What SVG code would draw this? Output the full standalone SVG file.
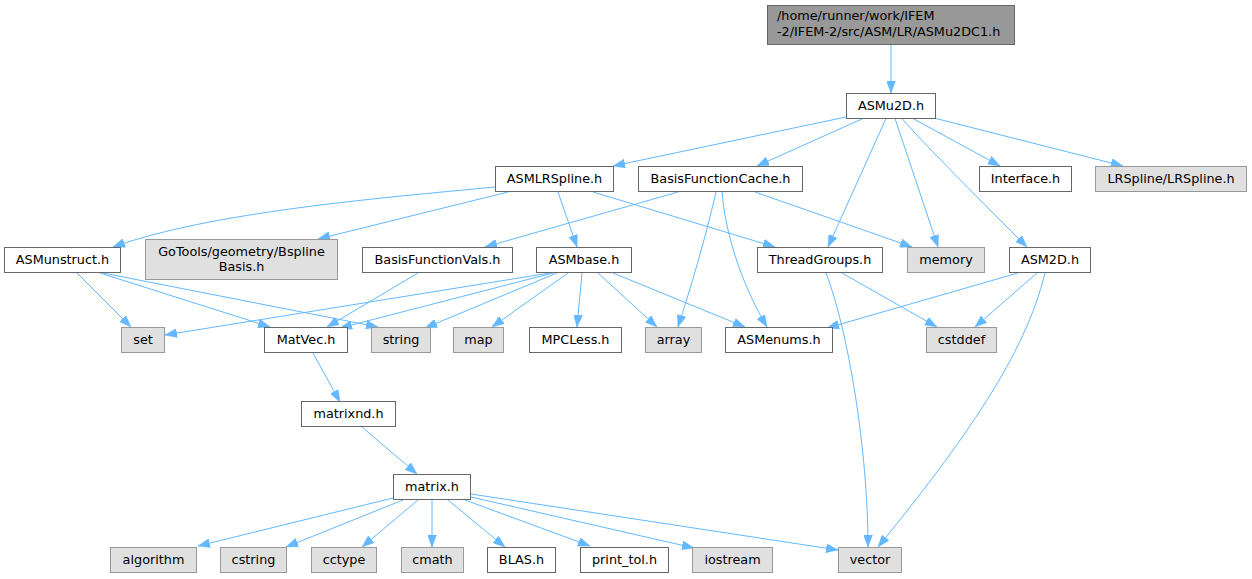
<svg xmlns="http://www.w3.org/2000/svg" width="1252" height="579" viewBox="0 0 1252 579">
<defs>
<style>
.n rect{fill:#ffffff;stroke:#666666;stroke-width:1}
.g rect{fill:#e0e0e0;stroke:#999999;stroke-width:1}
.t rect{fill:#999999;stroke:#666666;stroke-width:1}
text{font-family:"DejaVu Sans","Liberation Sans",sans-serif;font-size:12.8px;fill:#000000;text-anchor:middle}
.t text{text-anchor:start}
#edges path{fill:none;stroke:#63b8ff;stroke-width:1;marker-end:url(#ah)}
#edges polygon{fill:#63b8ff;stroke:#63b8ff;stroke-width:0.5}
</style>
<marker id="ah" markerUnits="userSpaceOnUse" viewBox="0 0 12 9" refX="12" refY="4.5" markerWidth="12" markerHeight="9" orient="auto">
<path d="M0,0 L12,4.5 L0,9 z" fill="#63b8ff" stroke="#63b8ff" stroke-width="0.5"/>
</marker>
</defs>
<rect x="0" y="0" width="1252" height="579" fill="#ffffff"/>
<g id="edges">
<path d="M891,45 L891,93"/>
<path d="M846,117 L613,166"/>
<path d="M863,118.5 L757,166"/>
<path d="M886,118.5 L828,247"/>
<path d="M895,118.5 L938,247"/>
<path d="M902,118.5 C920,140 990,210 1027,247"/>
<path d="M913,118.5 L1000,166"/>
<path d="M936,118.5 L1123,166"/>
<path d="M495,187 C380,198 210,212 113,247"/>
<path d="M508,192 L318,239"/>
<path d="M558,192 L577,247"/>
<path d="M593,192 L775,247"/>
<path d="M678,192 L485,247"/>
<path d="M716,192 C705,240 690,290 678,327"/>
<path d="M722,192 C726,240 745,290 767,327"/>
<path d="M755,192 L912,247"/>
<path d="M77,273 L131,327"/>
<path d="M100,273 L270,327"/>
<path d="M103,273 L378,327"/>
<path d="M418,273 L327,327"/>
<path d="M550,273 L165,335"/>
<path d="M553,273 L340,328"/>
<path d="M557,273 L425,328"/>
<path d="M568,273 L492,327"/>
<path d="M582,273 L577,327"/>
<path d="M598,273 L657,327"/>
<path d="M613,273 L745,327"/>
<path d="M842,273 L937,327"/>
<path d="M826,273 C848,330 868,450 868,547"/>
<path d="M1018,273 L827,328"/>
<path d="M1037,273 L975,327"/>
<path d="M1045,273 C1025,355 965,440 878,547"/>
<path d="M313,353 L340,402"/>
<path d="M362,427 L417,474"/>
<path d="M393,498 L198,546"/>
<path d="M403,500 L286,547"/>
<path d="M418,500 L362,547"/>
<path d="M432,500 L432,547"/>
<path d="M448,500 L505,547"/>
<path d="M465,500 L590,546"/>
<path d="M471,497 L694,548"/>
<path d="M471,494 L838,550"/>
</g>
<g id="n_top" class="t"><rect x="767.5" y="5.5" width="247" height="39"/><text x="777" y="20">/home/runner/work/IFEM</text><text x="777" y="35.5">-2/IFEM-2/src/ASM/LR/ASMu2DC1.h</text></g>
<g id="n_asmu2d" class="n"><rect x="846.5" y="93.5" width="89" height="25"/><text x="891" y="109.5">ASMu2D.h</text></g>
<g id="n_interface" class="n"><rect x="979.5" y="166.5" width="92" height="25"/><text x="1025.5" y="182.8">Interface.h</text></g>
<g id="n_lrspline" class="g"><rect x="1095.5" y="166.5" width="151" height="25"/><text x="1171" y="182.8">LRSpline/LRSpline.h</text></g>
<g id="n_asmlrspline" class="n"><rect x="495.5" y="166.5" width="118" height="25"/><text x="554.5" y="182.8">ASMLRSpline.h</text></g>
<g id="n_bfcache" class="n"><rect x="638.5" y="166.5" width="164" height="25"/><text x="720.5" y="182.8">BasisFunctionCache.h</text></g>
<g id="n_asmunstruct" class="n"><rect x="4.5" y="247.5" width="116" height="25"/><text x="62.5" y="263.8">ASMunstruct.h</text></g>
<g id="n_gotools" class="g"><rect x="145.5" y="239.5" width="192" height="40"/><text x="241.5" y="256">GoTools/geometry/Bspline</text><text x="241.5" y="270.5">Basis.h</text></g>
<g id="n_bfvals" class="n"><rect x="362.5" y="247.5" width="150" height="25"/><text x="437.5" y="263.8">BasisFunctionVals.h</text></g>
<g id="n_asmbase" class="n"><rect x="536.5" y="247.5" width="95" height="25"/><text x="584" y="263.8">ASMbase.h</text></g>
<g id="n_threadgroups" class="n"><rect x="757.5" y="247.5" width="125" height="25"/><text x="820" y="263.8">ThreadGroups.h</text></g>
<g id="n_memory" class="g"><rect x="907.5" y="247.5" width="77" height="25"/><text x="946" y="263.8">memory</text></g>
<g id="n_asm2d" class="n"><rect x="1009.5" y="247.5" width="81" height="25"/><text x="1050" y="263.8">ASM2D.h</text></g>
<g id="n_set" class="g"><rect x="121.5" y="327.5" width="43" height="25"/><text x="143" y="343.8">set</text></g>
<g id="n_matvec" class="n"><rect x="264.5" y="327.5" width="83" height="25"/><text x="306" y="343.8">MatVec.h</text></g>
<g id="n_string" class="g"><rect x="371.5" y="327.5" width="59" height="25"/><text x="401" y="343.8">string</text></g>
<g id="n_map" class="g"><rect x="453.5" y="327.5" width="50" height="25"/><text x="478.5" y="343.8">map</text></g>
<g id="n_mpcless" class="n"><rect x="529.5" y="327.5" width="92" height="25"/><text x="575.5" y="343.8">MPCLess.h</text></g>
<g id="n_array" class="g"><rect x="645.5" y="327.5" width="56" height="25"/><text x="673.5" y="343.8">array</text></g>
<g id="n_asmenums" class="n"><rect x="725.5" y="327.5" width="107" height="25"/><text x="779" y="343.8">ASMenums.h</text></g>
<g id="n_cstddef" class="g"><rect x="926.5" y="327.5" width="70" height="25"/><text x="961.5" y="343.8">cstddef</text></g>
<g id="n_matrixnd" class="n"><rect x="301.5" y="401.5" width="94" height="25"/><text x="348.5" y="417.8">matrixnd.h</text></g>
<g id="n_matrix" class="n"><rect x="393.5" y="474.5" width="77" height="25"/><text x="432" y="490.8">matrix.h</text></g>
<g id="n_algorithm" class="g"><rect x="110.5" y="547.5" width="86" height="25"/><text x="153.5" y="563.8">algorithm</text></g>
<g id="n_cstring" class="g"><rect x="220.5" y="547.5" width="66" height="25"/><text x="253.5" y="563.8">cstring</text></g>
<g id="n_cctype" class="g"><rect x="311.5" y="547.5" width="65" height="25"/><text x="344" y="563.8">cctype</text></g>
<g id="n_cmath" class="g"><rect x="401.5" y="547.5" width="62" height="25"/><text x="432.5" y="563.8">cmath</text></g>
<g id="n_blas" class="n"><rect x="487.5" y="547.5" width="68" height="25"/><text x="521.5" y="563.8">BLAS.h</text></g>
<g id="n_printtol" class="n"><rect x="580.5" y="547.5" width="88" height="25"/><text x="624.5" y="563.8">print_tol.h</text></g>
<g id="n_iostream" class="g"><rect x="692.5" y="547.5" width="80" height="25"/><text x="732.5" y="563.8">iostream</text></g>
<g id="n_vector" class="g"><rect x="838.5" y="547.5" width="63" height="25"/><text x="870" y="563.8">vector</text></g>
</svg>
